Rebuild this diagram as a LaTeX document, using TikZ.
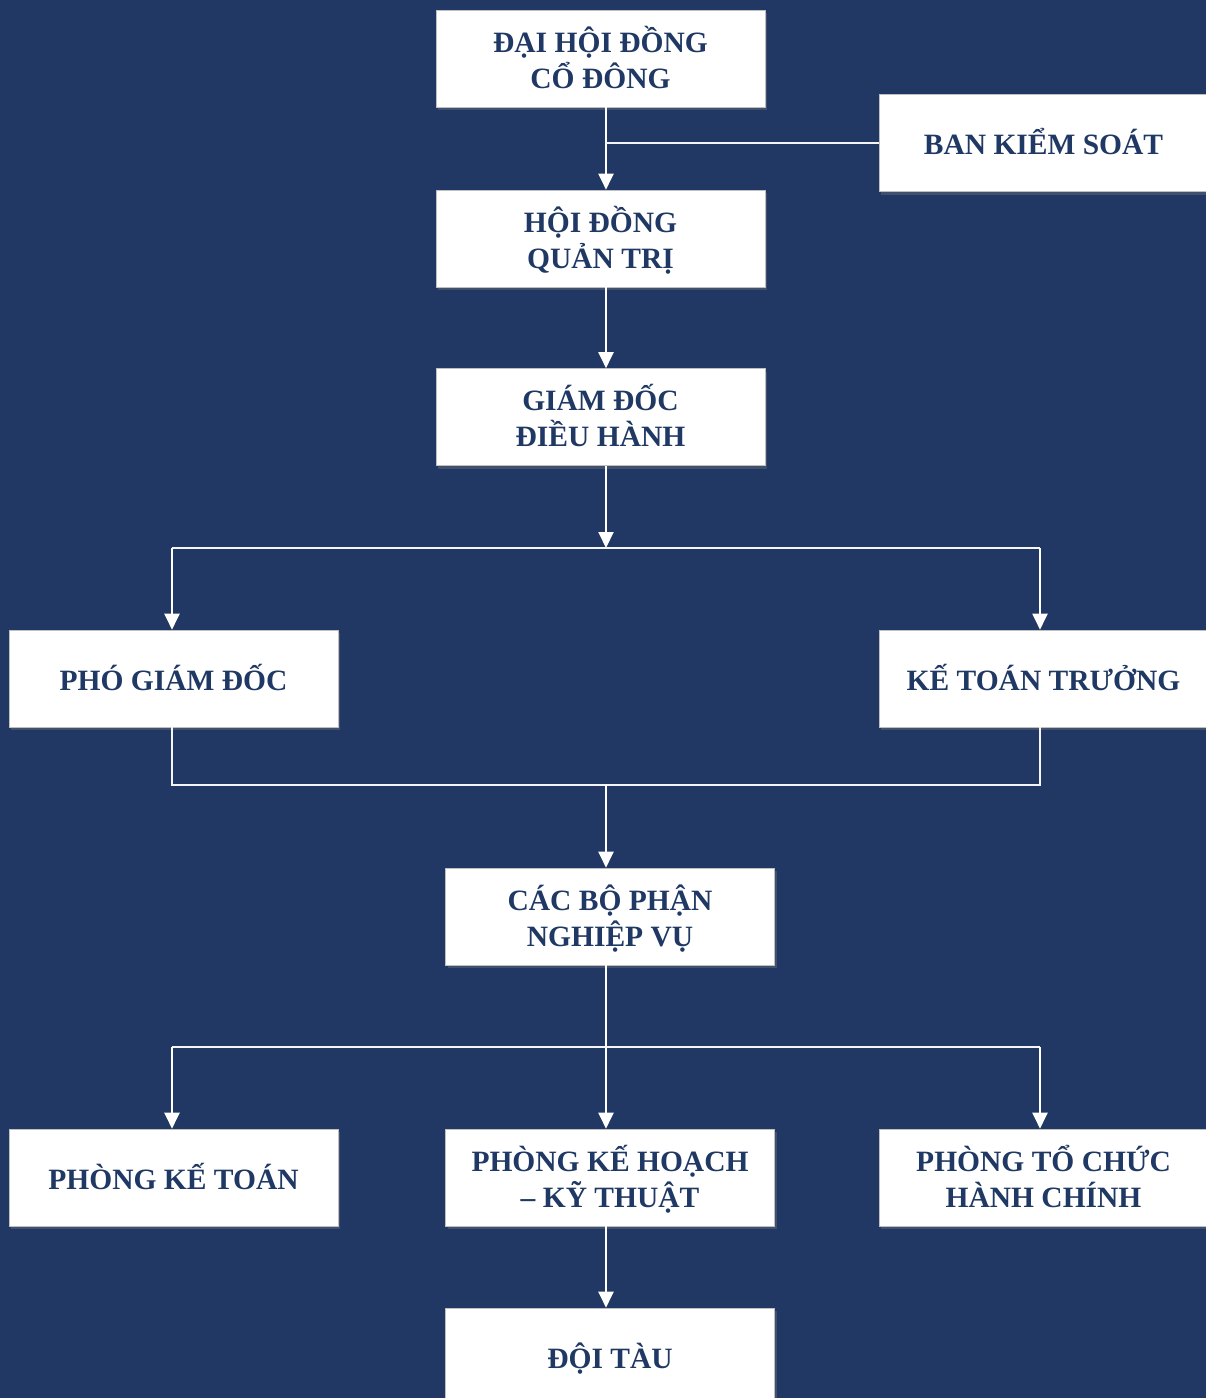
\documentclass[tikz,border=0pt]{standalone}
\usepackage{fontspec}
\setmainfont{Liberation Serif}
\usetikzlibrary{arrows.meta,shadows,calc}
\definecolor{bg}{RGB}{32,56,99}
\definecolor{navy}{RGB}{31,56,100}
\begin{document}
\begin{tikzpicture}[x=1pt,y=-1pt,
  box/.style={fill=white, draw=black!25, line width=0.6pt, minimum width=329pt, minimum height=97pt, inner sep=0pt,
    drop shadow={shadow xshift=2pt, shadow yshift=-3pt, opacity=0.35}},
  lbl/.style={font=\fontsize{29.5}{36}\selectfont\bfseries, text=navy, align=center, anchor=base, inner sep=0pt},
  arr/.style={draw=white, line width=2pt, -{Triangle[width=15pt,length=16pt]}},
  link/.style={draw=white!92!gray, line width=1.4pt}
]
\fill[bg] (0,0) rectangle (1206,1398);
\useasboundingbox (0,0) rectangle (1206,1398);

% boxes
\node[box] (dh)  at (600.5,58.5)   {};
\node[box] (bk)  at (1043.5,143)   {};
\node[box] (hd)  at (600.5,238.5)  {};
\node[box] (gd)  at (600.5,417)    {};
\node[box] (pg)  at (173.5,678.5)  {};
\node[box] (kt)  at (1043.5,678.5) {};
\node[box] (cb)  at (610,916.5)    {};
\node[box] (pkt) at (173.5,1177.5) {};
\node[box] (pk)  at (610,1177.5)   {};
\node[box] (ptc) at (1043.5,1177.5){};
\node[box] (dt)  at (610,1356.5)   {};

% labels (base anchor = baseline of the last line)
\node[lbl] (tdh)  at ($(dh.center)+(0,29.5)$)  {ĐẠI HỘI ĐỒNG\\CỔ ĐÔNG};
\node[lbl] (tbk)  at ($(bk.center)+(0,11.5)$)  {BAN KIỂM SOÁT};
\node[lbl] (thd)  at ($(hd.center)+(0,29.5)$)  {HỘI ĐỒNG\\QUẢN TRỊ};
\node[lbl] (tgd)  at ($(gd.center)+(0,29.5)$)  {GIÁM ĐỐC\\ĐIỀU HÀNH};
\node[lbl] (tpg)  at ($(pg.center)+(0,11.5)$)  {PHÓ GIÁM ĐỐC};
\node[lbl] (tkt)  at ($(kt.center)+(0,11.5)$)  {KẾ TOÁN TRƯỞNG};
\node[lbl] (tcb)  at ($(cb.center)+(0,29.5)$)  {CÁC BỘ PHẬN\\NGHIỆP VỤ};
\node[lbl] (tpkt) at ($(pkt.center)+(0,11.5)$) {PHÒNG KẾ TOÁN};
\node[lbl] (tpk)  at ($(pk.center)+(0,29.5)$)  {PHÒNG KẾ HOẠCH\\– KỸ THUẬT};
\node[lbl] (tptc) at ($(ptc.center)+(0,29.5)$) {PHÒNG TỔ CHỨC\\HÀNH CHÍNH};
\node[lbl] (tdt)  at ($(dt.center)+(0,11.5)$)  {ĐỘI TÀU};

% guide coordinates
\coordinate (sp) at (606,0);
\coordinate (xl) at (172,0);
\coordinate (xr) at (1040,0);
\coordinate (j1) at (606,548);
\coordinate (j2) at (606,785);
\coordinate (j3) at (606,1047);

% connectors
\draw[arr]  (dh.south -| sp) -- (hd.north -| sp);
\draw[link] (bk.west -| sp) -- (bk.west);
\draw[arr]  (hd.south -| sp) -- (gd.north -| sp);
\draw[arr]  (gd.south -| sp) -- (j1);
\draw[link] (j1 -| xl) -- (j1 -| xr);
\draw[arr]  (j1 -| xl) -- (pg.north -| xl);
\draw[arr]  (j1 -| xr) -- (kt.north -| xr);
\draw[link] (pg.south -| xl) |- (j2) -| (kt.south -| xr);
\draw[arr]  (j2) -- (cb.north -| sp);
\draw[arr]  (cb.south -| sp) -- (pk.north -| sp);
\draw[link] (j3 -| xl) -- (j3 -| xr);
\draw[arr]  (j3 -| xl) -- (pkt.north -| xl);
\draw[arr]  (j3 -| xr) -- (ptc.north -| xr);
\draw[arr]  (pk.south -| sp) -- (dt.north -| sp);
\end{tikzpicture}
\end{document}
